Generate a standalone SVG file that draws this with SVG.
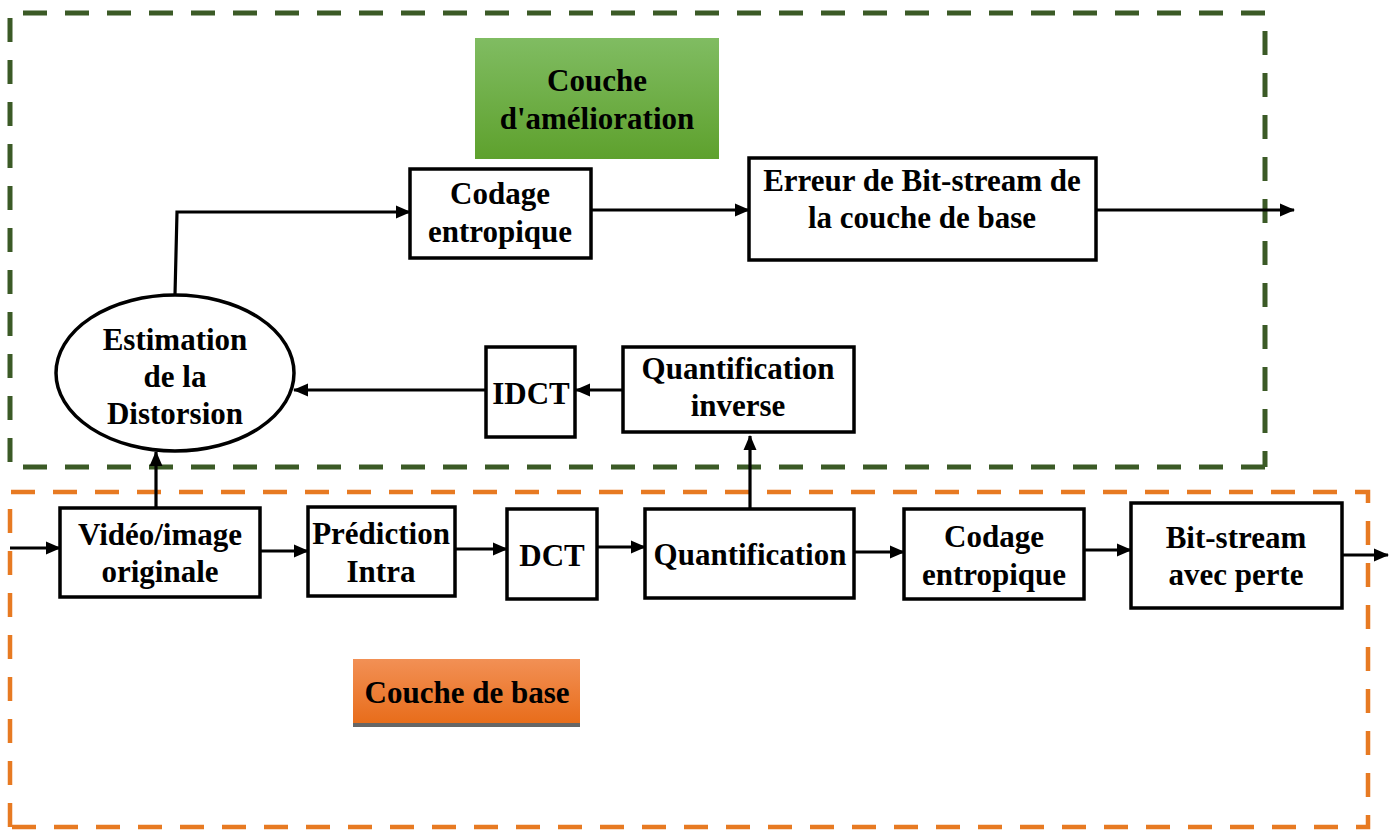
<svg xmlns="http://www.w3.org/2000/svg" width="1397" height="831" viewBox="0 0 1397 831">
<style>
.box{fill:#fff;stroke:#000;stroke-width:3.5}
.t{font-family:"Liberation Serif","Times New Roman",serif;font-weight:bold;font-size:31px;fill:#000;text-anchor:middle}
.c{fill:none;stroke:#000;stroke-width:3.2}
.g{fill:none;stroke:#3b5a26;stroke-width:5;stroke-dasharray:24 18}
.o{fill:none;stroke:#e77a22;stroke-width:4.5;stroke-dasharray:24 18}
</style>
<defs>
<linearGradient id="gg" x1="0" y1="0" x2="0" y2="1"><stop offset="0" stop-color="#80bc62"/><stop offset="1" stop-color="#5ea12d"/></linearGradient>
<linearGradient id="og" x1="0" y1="0" x2="0" y2="1"><stop offset="0" stop-color="#f29055"/><stop offset="1" stop-color="#e86d1b"/></linearGradient>
<marker id="ah" markerWidth="16" markerHeight="14" refX="14" refY="7" orient="auto" markerUnits="userSpaceOnUse"><path d="M0,0.5 L15,7 L0,13.5 Z" fill="#000"/></marker>
</defs>
<rect width="1397" height="831" fill="#fff"/>
<g id="layer-enhancement">
<path class="g" d="M1265,467 L10,467 L10,13 L1265,13 L1265,467"/>
</g>
<g id="layer-base">
<path class="o" d="M10,827 L10,492 L1368,492 L1368,827 L10,827"/>
</g>
<g id="label-amelioration">
<rect x="475" y="38" width="244" height="121" fill="url(#gg)"/>
<text class="t" x="597" y="91">Couche</text>
<text class="t" x="597" y="129">d'amélioration</text>
</g>
<g id="label-base">
<rect x="353" y="723" width="227" height="4" fill="#666"/>
<rect x="353" y="659" width="227" height="64" fill="url(#og)"/>
<text class="t" x="467" y="703">Couche de base</text>
</g>
<g id="connectors">
<path class="c" d="M175,295 L177,212 L410,212" marker-end="url(#ah)"/>
<path class="c" d="M591,210 L749,210" marker-end="url(#ah)"/>
<path class="c" d="M1096,210 L1294,210" marker-end="url(#ah)"/>
<path class="c" d="M623,390 L576,390" marker-end="url(#ah)"/>
<path class="c" d="M486,390 L294,390" marker-end="url(#ah)"/>
<path class="c" d="M156,508 L156,452" marker-end="url(#ah)"/>
<path class="c" d="M750,509 L750,436" marker-end="url(#ah)"/>
<path class="c" d="M10,548 L60,548" marker-end="url(#ah)"/>
<path class="c" d="M260,551 L308,551" marker-end="url(#ah)"/>
<path class="c" d="M455,549 L507,549" marker-end="url(#ah)"/>
<path class="c" d="M597,547 L645,547" marker-end="url(#ah)"/>
<path class="c" d="M854,552 L904,552" marker-end="url(#ah)"/>
<path class="c" d="M1084,550 L1131,550" marker-end="url(#ah)"/>
<path class="c" d="M1342,555 L1388,555" marker-end="url(#ah)"/>
</g>
<g id="codage-top">
<rect class="box" x="410" y="169" width="181" height="89"/>
<text class="t" x="500" y="204">Codage</text>
<text class="t" x="500" y="242">entropique</text>
</g>
<g id="erreur">
<rect class="box" x="749" y="158" width="347" height="102"/>
<text class="t" x="922" y="191">Erreur de Bit-stream de</text>
<text class="t" x="922" y="228">la couche de base</text>
</g>
<g id="estimation">
<ellipse class="box" cx="175" cy="373" rx="119" ry="78"/>
<text class="t" x="175" y="350">Estimation</text>
<text class="t" x="175" y="387">de la</text>
<text class="t" x="175" y="424">Distorsion</text>
</g>
<g id="idct">
<rect class="box" x="486" y="347" width="89" height="90"/>
<text class="t" x="531" y="404">IDCT</text>
</g>
<g id="quant-inverse">
<rect class="box" x="623" y="347" width="231" height="85"/>
<text class="t" x="738" y="379">Quantification</text>
<text class="t" x="738" y="416">inverse</text>
</g>
<g id="video">
<rect class="box" x="60" y="508" width="200" height="89"/>
<text class="t" x="160" y="545">Vidéo/image</text>
<text class="t" x="160" y="582">originale</text>
</g>
<g id="prediction">
<rect class="box" x="308" y="507" width="147" height="89"/>
<text class="t" x="381" y="544">Prédiction</text>
<text class="t" x="381" y="582">Intra</text>
</g>
<g id="dct">
<rect class="box" x="507" y="509" width="90" height="90"/>
<text class="t" x="552" y="566">DCT</text>
</g>
<g id="quantification">
<rect class="box" x="645" y="509" width="209" height="89"/>
<text class="t" x="750" y="565">Quantification</text>
</g>
<g id="codage-bottom">
<rect class="box" x="904" y="509" width="180" height="90"/>
<text class="t" x="994" y="547">Codage</text>
<text class="t" x="994" y="585">entropique</text>
</g>
<g id="bitstream">
<rect class="box" x="1131" y="503" width="211" height="105"/>
<text class="t" x="1236" y="548">Bit-stream</text>
<text class="t" x="1236" y="585">avec perte</text>
</g>
</svg>
